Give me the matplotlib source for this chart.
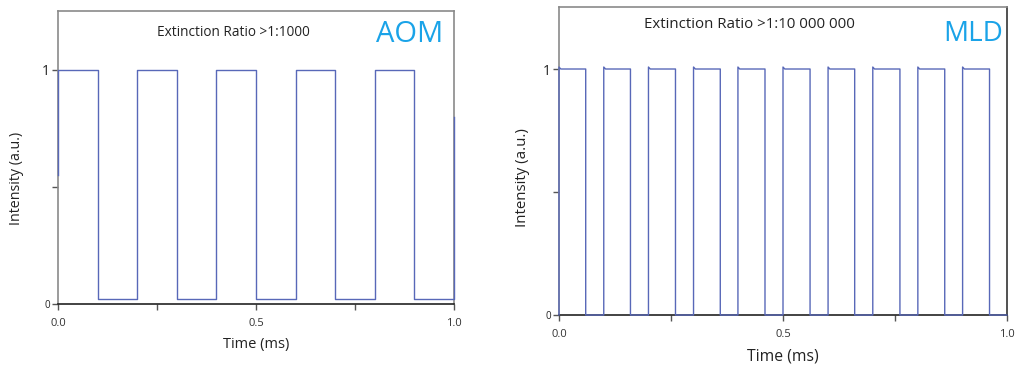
import numpy as np
import matplotlib
matplotlib.use("Agg")
import matplotlib.pyplot as plt

plt.rcParams['font.family'] = ['Open Sans', 'DejaVu Sans']

# ---- data ----
# AOM: pulse (on) windows in ms, high/low levels
aom_on_start = [0.0, 0.2, 0.4, 0.6, 0.8]
aom_on_end = [0.1, 0.3, 0.5, 0.7, 0.9]
aom_high = 1.0
aom_low = 0.022
aom_first_level = 0.55   # trace begins mid-rise at t=0
aom_last_level = 0.80    # trace ends mid-rise at t=1.0

# MLD: pulse windows in ms
mld_on_start = [0.0, 0.0999, 0.1997, 0.3003, 0.3994, 0.5, 0.6006, 0.7004, 0.801, 0.9009]
mld_on_end = [0.0596, 0.1595, 0.26, 0.36, 0.4598, 0.5604, 0.66, 0.761, 0.861, 0.961]
mld_high = 1.0
mld_peak = 1.008
mld_low = 0.0

x_ticks = [0.0, 0.25, 0.5, 0.75, 1.0]
x_labels = ["0.0", "", "0.5", "", "1.0"]
y_ticks = [0.0, 0.5, 1.0]
y_labels = ["0", "", "1"]

LINE = "#5868b8"
BLUE = "#1aa3e8"


def build_trace(starts, ends, high, low, t_end, peak=None, first=None, last=None):
    t, v = [], []
    for i, (s, e) in enumerate(zip(starts, ends)):
        t += [s, s]
        v += [low if (i > 0 or first is None) else first, peak if peak else high]
        if peak:
            t += [s + 0.004]
            v += [high]
        t += [e, e]
        v += [high, low]
    t.append(t_end)
    v.append(low)
    if last is not None:
        t.append(t_end)
        v.append(last)
    return np.array(t), np.array(v)


fig = plt.figure(figsize=(10.24, 3.71), dpi=100)

ax1 = fig.add_axes([0.0566, 0.1806, 0.3868, 0.7898])
ax2 = fig.add_axes([0.5459, 0.1509, 0.4375, 0.8302])

t1, v1 = build_trace(aom_on_start, aom_on_end, aom_high, aom_low, 1.0,
                     first=aom_first_level, last=aom_last_level)
t2, v2 = build_trace(mld_on_start, mld_on_end, mld_high, mld_low, 1.0, peak=mld_peak)

ax1.plot(t1, v1, color=LINE, lw=1.0, zorder=3, clip_on=False)
ax2.plot(t2, v2, color=LINE, lw=1.0, zorder=3, clip_on=False)

cfg = [
    dict(ax=ax1, txt="Extinction Ratio >1:1000", tx=0.442, ty=1.162, tfs=9.8,
         lab="AOM", lx=0.972, ly=1.15, lfs=21, xfs=10.5, yfs=10.3,
         ylc=(-0.086, 0.43)),
    dict(ax=ax2, txt="Extinction Ratio >1:10 000 000", tx=0.425, ty=1.179, tfs=10.8,
         lab="MLD", lx=0.991, ly=1.143, lfs=20, xfs=11.3, yfs=10.8,
         ylc=(-0.065, 0.446)),
]

for c in cfg:
    ax = c['ax']
    ax.set_xlim(0, 1.0)
    ax.set_ylim(0, 1.252)
    ax.set_xticks(x_ticks)
    ax.set_xticklabels(x_labels, fontsize=8, color="#333333")
    ax.set_yticks(y_ticks)
    ax.set_yticklabels(y_labels, fontsize=10, color="#222222")
    ax.get_yticklabels()[0].set_fontsize(7)
    ax.tick_params(axis='x', direction='out', length=4, width=1, color="#555555", pad=6)
    ax.tick_params(axis='y', direction='out', length=4, width=1, color="#555555", pad=2)
    ax.set_xlabel("Time (ms)", fontsize=c['xfs'], color="#222222", labelpad=6)
    ax.set_ylabel("Intensity (a.u.)", fontsize=c['yfs'], color="#222222")
    ax.yaxis.set_label_coords(*c['ylc'])
    for side in ['left', 'right', 'top']:
        ax.spines[side].set_color("#8a8a8a")
        ax.spines[side].set_linewidth(1.2)
    ax.spines['bottom'].set_color("#222222")
    ax.spines['bottom'].set_linewidth(1.2)
    ax.text(c['tx'], c['ty'], c['txt'], ha='center', va='center',
            fontsize=c['tfs'], color="#222222")
    ax.text(c['lx'], c['ly'], c['lab'], ha='right', va='center',
            fontsize=c['lfs'], color=BLUE)

ax2.spines['right'].set_color("#333333")

fig.savefig("out.png", dpi=100)
